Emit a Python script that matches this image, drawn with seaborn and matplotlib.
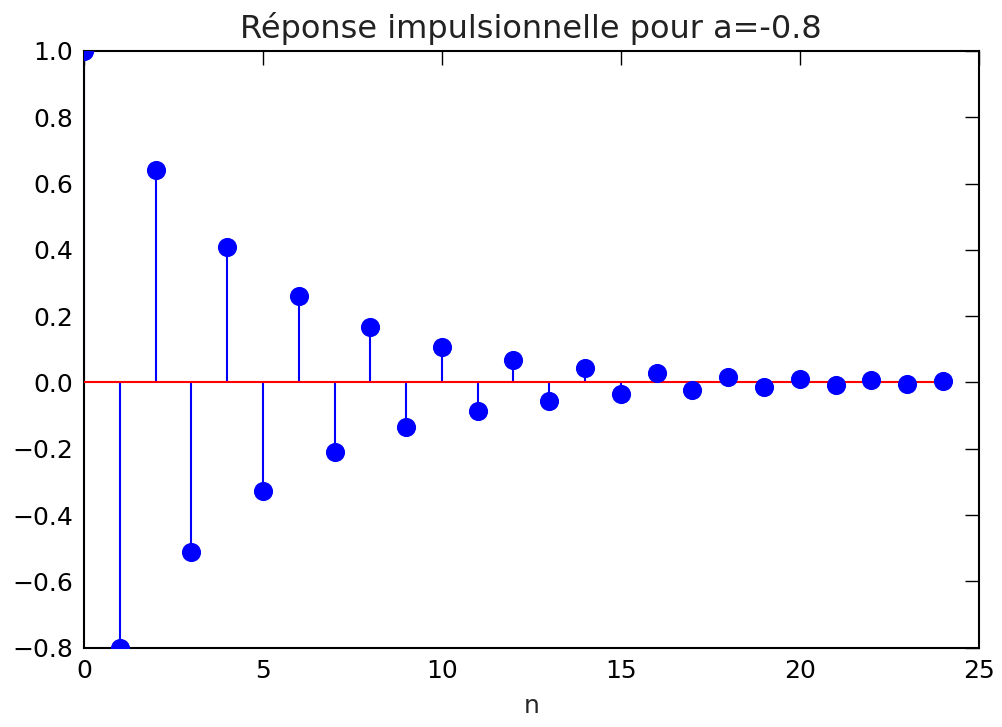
import numpy as np
import pandas as pd
import matplotlib
matplotlib.use("Agg")
import matplotlib.pyplot as plt
import seaborn as sns

sns.set_style("white")
plt.rcParams['font.family'] = ['DejaVu Sans']

# impulse response values
n = list(range(25))
h = [1.0, -0.8, 0.64, -0.512, 0.41, -0.328, 0.262, -0.21, 0.168, -0.134,
     0.107, -0.086, 0.069, -0.055, 0.044, -0.035, 0.028, -0.023, 0.018, -0.014,
     0.012, -0.009, 0.007, -0.006, 0.005]
yticks = [-0.8, -0.6, -0.4, -0.2, 0.0, 0.2, 0.4, 0.6, 0.8, 1.0]
xticks = [0, 5, 10, 15, 20, 25]
df = pd.DataFrame({"n": n, "h": h})

fig = plt.figure(figsize=(10.02, 7.27), dpi=100)
ax = fig.add_axes([0.0838, 0.109, 0.893, 0.821])

# stems
ax.vlines(df["n"], 0, df["h"], color="blue", linewidth=1.5, zorder=2)
# baseline
ax.plot([df["n"].min(), df["n"].max()], [0, 0], color="red", linewidth=1.5, zorder=3)
# markers
sns.scatterplot(data=df, x="n", y="h", ax=ax, color="blue", s=190,
                edgecolor="blue", linewidth=0, zorder=4)

ax.set_xlim(0, 25)
ax.set_ylim(-0.8, 1.0)
ax.set_xticks(xticks)
ax.set_yticks(yticks)
ax.set_yticklabels([f"{v:.1f}".replace("-", "\u2212") for v in yticks])
ax.tick_params(direction="in", length=10, width=1, top=True, right=True,
               labelsize=18, colors="black", pad=8)
for s in ax.spines.values():
    s.set_visible(True)
    s.set_color("black")
    s.set_linewidth(1.5)

ax.set_xlabel("n", fontsize=18, labelpad=8)
ax.set_ylabel("")
ax.set_title("Réponse impulsionnelle pour a=-0.8", fontsize=23, pad=9,
             color="#222222")

fig.savefig("out.png", dpi=100)
